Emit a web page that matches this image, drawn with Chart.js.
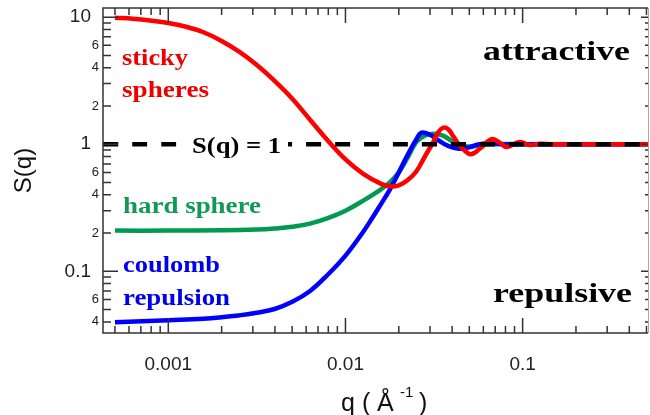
<!DOCTYPE html>
<html>
<head>
<meta charset="utf-8">
<script src="https://cdn.jsdelivr.net/npm/chart.js@4.4.0/dist/chart.umd.min.js"></script>
<style>
  body { margin: 0; background: #fff; }
  canvas { display: block; }
</style>
</head>
<body>
<canvas id="sq" width="650" height="415"></canvas>
<script>
// S(q) curves (q in 1/Angstrom)
var stickyQ = [0.0005, 0.00063, 0.00079, 0.001, 0.00126, 0.00158, 0.002, 0.00251, 0.00316, 0.00398, 0.00501, 0.00631, 0.00794, 0.01, 0.0126, 0.0158, 0.0178, 0.02, 0.0224, 0.0251, 0.0282, 0.0313, 0.0335, 0.0357, 0.038, 0.0405, 0.0435, 0.0462, 0.0509, 0.0575, 0.0668, 0.074, 0.0812, 0.0964, 0.11, 0.125, 0.15, 0.2, 0.3, 0.51];
var stickyS = [9.9, 9.7, 9.4, 9.0, 8.4, 7.6, 6.5, 5.35, 4.2, 3.15, 2.28, 1.56, 1.07, 0.76, 0.585, 0.49, 0.466, 0.475, 0.52, 0.61, 0.81, 1.04, 1.25, 1.35, 1.31, 1.16, 1.0, 0.913, 0.835, 0.925, 1.095, 1.03, 0.952, 1.04, 0.985, 1.01, 0.998, 1.0, 1.0, 1.0];

var hardQ = [0.0005, 0.001, 0.002, 0.00316, 0.00398, 0.00501, 0.00631, 0.00794, 0.01, 0.0126, 0.0158, 0.0178, 0.02, 0.0224, 0.0251, 0.0282, 0.0316, 0.0355, 0.0398, 0.0447, 0.05, 0.0562, 0.063, 0.079, 0.1, 0.2, 0.51];
var hardS = [0.209, 0.209, 0.21, 0.213, 0.217, 0.224, 0.237, 0.262, 0.30, 0.36, 0.44, 0.50, 0.60, 0.78, 1.04, 1.17, 1.21, 1.17, 1.06, 0.97, 0.96, 0.975, 0.995, 1.005, 1.0, 1.0, 1.0];

var coulQ = [0.0005, 0.001, 0.00158, 0.00251, 0.00316, 0.00398, 0.00501, 0.00631, 0.00794, 0.01, 0.0126, 0.0141, 0.0158, 0.0178, 0.02, 0.0224, 0.0251, 0.0269, 0.0302, 0.0339, 0.038, 0.0437, 0.05, 0.0562, 0.065, 0.0794, 0.1, 0.2, 0.51];
var coulS = [0.0398, 0.0412, 0.0423, 0.045, 0.0472, 0.0505, 0.0575, 0.070, 0.094, 0.133, 0.205, 0.26, 0.335, 0.44, 0.60, 0.82, 1.09, 1.235, 1.18, 1.06, 0.97, 0.92, 0.945, 0.995, 1.02, 0.995, 1.0, 1.0, 1.0];

var oneQ = [0.000428, 0.51];
var oneS = [1, 1];

// tick labels
var xTickValues = [0.001, 0.01, 0.1];
var xTickLabels = ['0.001', '0.01', '0.1'];
var yTickValues = [10, 6, 4, 2, 1, 0.6, 0.4, 0.2, 0.1, 0.06, 0.04];
var yTickLabels = ['10', '6', '4', '2', '1', '6', '4', '2', '0.1', '6', '4'];

var sans = '"Liberation Sans", Arial, sans-serif';
var serif = '"Liberation Serif", "Times New Roman", serif';

function pts(q, s) {
  return q.map(function (v, i) { return { x: v, y: s[i] }; });
}

function logTicks(min, max) {
  var out = [];
  for (var e = Math.floor(Math.log10(min)); e <= Math.ceil(Math.log10(max)); e++) {
    for (var k = 1; k <= 9; k++) {
      var v = k * Math.pow(10, e);
      if (v >= min * 0.999 && v <= max * 1.001) out.push(v);
    }
  }
  return out;
}

function isDecade(v) {
  var l = Math.log10(v);
  return Math.abs(l - Math.round(l)) < 1e-6;
}

// bold serif label stretched to the width seen in the figure
function word(ctx, text, x, base, size, color, width) {
  ctx.font = 'bold ' + size + 'px ' + serif;
  var w = ctx.measureText(text).width;
  ctx.save();
  ctx.translate(x, base);
  ctx.scale(width / w, 1);
  ctx.fillStyle = color;
  ctx.textAlign = 'left';
  ctx.textBaseline = 'alphabetic';
  ctx.fillText(text, 0, 0);
  ctx.restore();
}

var frame = {
  id: 'frame',
  afterDatasetsDraw: function (chart) {
    var ctx = chart.ctx, a = chart.chartArea;
    var x = chart.scales.x, y = chart.scales.y;
    ctx.save();

    // box
    ctx.strokeStyle = '#333';
    ctx.lineWidth = 1.5;
    ctx.beginPath();
    ctx.moveTo(a.right, a.top);
    ctx.lineTo(a.left, a.top);
    ctx.lineTo(a.left, a.bottom);
    ctx.lineTo(a.right, a.bottom);
    ctx.stroke();
    ctx.strokeStyle = '#aaa';
    ctx.lineWidth = 1;
    ctx.beginPath();
    ctx.moveTo(a.right + 0.5, a.top);
    ctx.lineTo(a.right + 0.5, a.bottom);
    ctx.stroke();

    // inward ticks on all sides
    ctx.strokeStyle = '#333';
    ctx.lineWidth = 1.5;
    ctx.beginPath();
    logTicks(x.min, x.max).forEach(function (v) {
      var px = x.getPixelForValue(v);
      var len = isDecade(v) ? 15 : 7;
      ctx.moveTo(px, a.bottom); ctx.lineTo(px, a.bottom - len);
      ctx.moveTo(px, a.top); ctx.lineTo(px, a.top + len);
    });
    logTicks(y.min, y.max).forEach(function (v) {
      var py = y.getPixelForValue(v);
      var big = isDecade(v);
      ctx.moveTo(a.left, py); ctx.lineTo(a.left + (big ? 15 : 8), py);
      ctx.moveTo(a.right, py); ctx.lineTo(a.right - (big ? 7 : 3), py);
    });
    ctx.stroke();

    // y tick labels
    ctx.fillStyle = '#222';
    ctx.textAlign = 'right';
    ctx.textBaseline = 'middle';
    yTickValues.forEach(function (v, i) {
      var big = isDecade(v);
      ctx.font = (big ? 19 : 13) + 'px ' + sans;
      ctx.fillText(yTickLabels[i], big ? 91 : 99, y.getPixelForValue(v));
    });

    // x axis title with superscript
    ctx.textAlign = 'left';
    ctx.textBaseline = 'alphabetic';
    ctx.fillStyle = '#111';
    ctx.font = '25px ' + sans;
    ctx.fillText('q', 341, 411);
    ctx.fillText('(', 362, 411);
    ctx.fillText('\u00c5', 377, 411);
    ctx.fillText(')', 419, 411);
    ctx.font = '15px ' + sans;
    ctx.fillText('-1', 400, 397);

    // labels in the plot
    ctx.fillStyle = '#fff';
    ctx.fillRect(186, 134, 102, 26);
    word(ctx, 'S(q) = 1', 192, 153, 23, '#000', 89);
    word(ctx, 'sticky', 122, 65, 24, '#ee0000', 66);
    word(ctx, 'spheres', 122, 97, 24, '#ee0000', 87);
    word(ctx, 'hard sphere', 123, 213, 24, '#109a55', 138);
    word(ctx, 'coulomb', 123, 272, 24, '#0000ee', 97);
    word(ctx, 'repulsion', 123, 305, 24, '#0000ee', 107);
    word(ctx, 'attractive', 483, 60, 28, '#000', 147);
    word(ctx, 'repulsive', 493, 302, 28, '#000', 139);

    ctx.restore();
  }
};

var line = { pointRadius: 0, borderWidth: 4.5, fill: false, tension: 0.4 };

new Chart(document.getElementById('sq'), {
  type: 'line',
  data: {
    datasets: [
      Object.assign({ data: pts(oneQ, oneS), borderColor: '#000', borderDash: [15, 14], order: 0 }, line),
      Object.assign({ data: pts(stickyQ, stickyS), borderColor: '#ff0000', order: 1 }, line),
      Object.assign({ data: pts(coulQ, coulS), borderColor: '#0000ff', order: 2 }, line),
      Object.assign({ data: pts(hardQ, hardS), borderColor: '#009a50', order: 3 }, line)
    ]
  },
  options: {
    responsive: false,
    animation: false,
    layout: { padding: { top: 8, right: 2, left: 0, bottom: 0 } },
    plugins: { legend: { display: false }, tooltip: { enabled: false } },
    scales: {
      x: {
        type: 'logarithmic',
        min: 0.000428,
        max: 0.51,
        grid: { display: false, drawTicks: false },
        border: { display: false },
        ticks: {
          autoSkip: false,
          maxRotation: 0,
          padding: 20,
          color: '#222',
          font: { family: sans, size: 19 },
          callback: function (v) {
            var i = xTickValues.findIndex(function (t) { return Math.abs(t - v) / t < 1e-6; });
            return i >= 0 ? xTickLabels[i] : '';
          }
        },
        afterBuildTicks: function (scale) {
          scale.ticks = logTicks(scale.min, scale.max).map(function (v) { return { value: v }; });
        },
        afterFit: function (scale) {
          scale.height = 82;
          scale.paddingLeft = 0;
          scale.paddingRight = 0;
        }
      },
      y: {
        type: 'logarithmic',
        min: 0.0327,
        max: 11.8,
        grid: { display: false, drawTicks: false },
        border: { display: false },
        ticks: { display: false },
        title: {
          display: true,
          text: 'S(q)',
          color: '#111',
          font: { family: sans, size: 24 },
          padding: { top: 10, bottom: 0 }
        },
        afterFit: function (scale) { scale.width = 103; }
      }
    }
  },
  plugins: [frame]
});
</script>
</body>
</html>
